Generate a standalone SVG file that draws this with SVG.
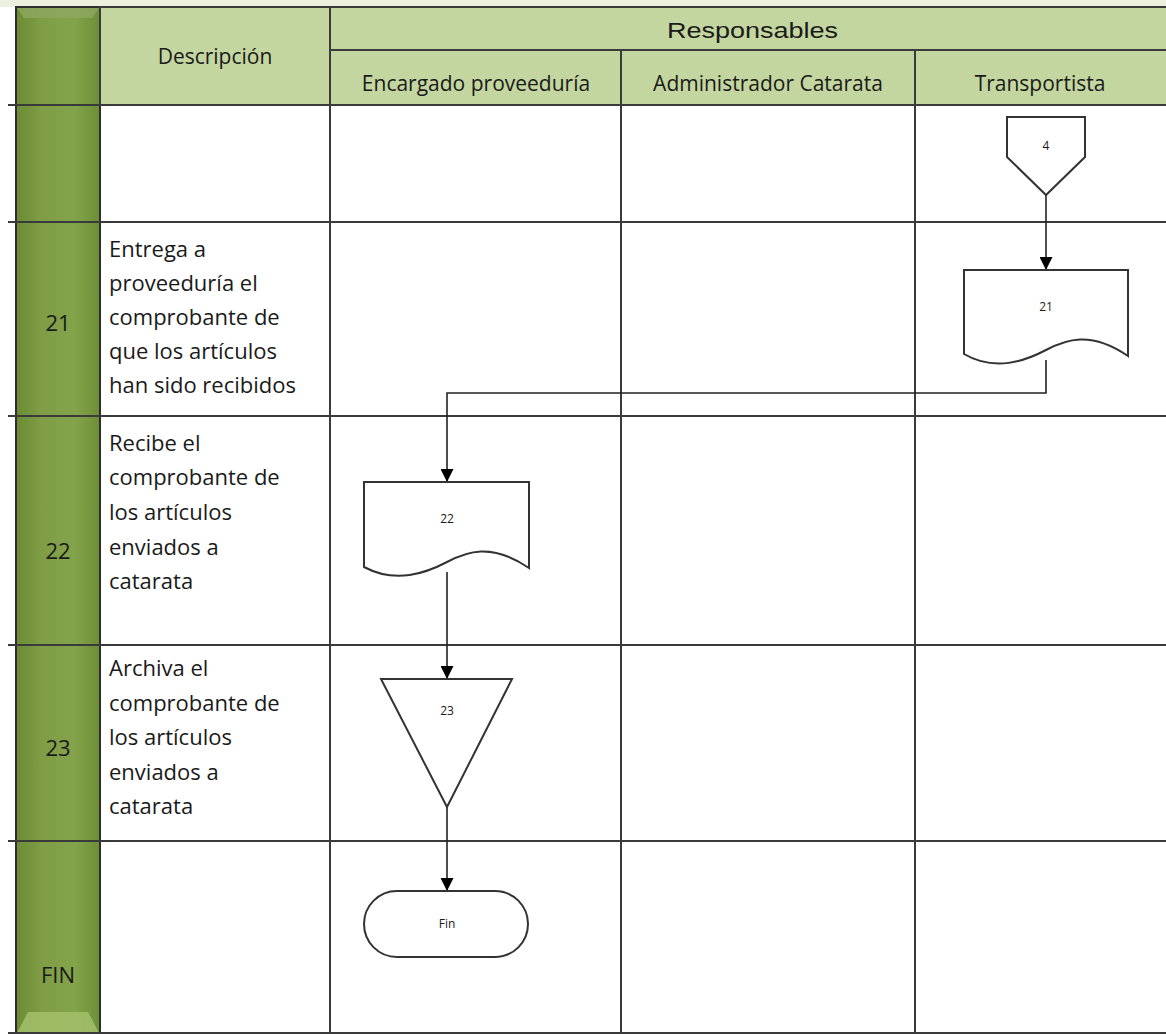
<svg xmlns="http://www.w3.org/2000/svg" width="1166" height="1034" viewBox="0 0 1166 1034">
<defs>
<style>
.grid{stroke:#3a3a3a;stroke-width:2;fill:none}
.hdr{fill:#c4d69f;stroke:#3a3a3a;stroke-width:2}
.t{font-family:"Open Sans","DejaVu Sans",sans-serif;font-size:22px;fill:#1a1a1a}
.h{font-family:"Open Sans","DejaVu Sans",sans-serif;font-size:21px;fill:#1a1a1a;text-anchor:middle}
.s{font-family:"Open Sans","DejaVu Sans",sans-serif;font-size:12px;fill:#1a1a1a;text-anchor:middle}
.shape{fill:#fff;stroke:#333;stroke-width:2}
.conn{stroke:#222;stroke-width:1.6;fill:none;marker-end:url(#arr)}
</style>
<linearGradient id="gcol" x1="0" y1="0" x2="1" y2="0">
<stop offset="0" stop-color="#6b8b35"/>
<stop offset="0.3" stop-color="#7e9d44"/>
<stop offset="0.7" stop-color="#84a44b"/>
<stop offset="1" stop-color="#6d8d37"/>
</linearGradient>
<marker id="arr" markerWidth="13" markerHeight="13" refX="13" refY="6.5" orient="auto" markerUnits="userSpaceOnUse" viewBox="0 0 13 13">
<path d="M0,0 L13,6.5 L0,13 Z" fill="#000"/>
</marker>
</defs>
<rect x="0" y="0" width="1166" height="1034" fill="#fff"/>
<rect x="0" y="0" width="1166" height="7" fill="#ebf1de"/>

<g id="green-column">
<rect x="16" y="7" width="84" height="1027" fill="url(#gcol)" stroke="#2e2e2e" stroke-width="2"/>
<polygon points="17,8 99,8 92,18 24,18" fill="#8fa862" opacity="0.8"/>
<polygon points="17,1033 99,1033 88,1012 28,1012" fill="#a3c16a" opacity="0.85"/>
</g>

<g id="header">
<rect class="hdr" x="100" y="7" width="230" height="98"/>
<rect class="hdr" x="330" y="7" width="840" height="43"/>
<rect class="hdr" x="330" y="50" width="291" height="55"/>
<rect class="hdr" x="621" y="50" width="294" height="55"/>
<rect class="hdr" x="915" y="50" width="255" height="55"/>
<text class="h" x="215" y="64">Descripción</text>
<text x="667" y="38" font-family="Liberation Sans, Arial, sans-serif" font-size="22" fill="#1a1a1a" textLength="171" lengthAdjust="spacingAndGlyphs">Responsables</text>
<text class="h" x="476" y="91">Encargado proveeduría</text>
<text class="h" x="768" y="91">Administrador Catarata</text>
<text class="h" x="1040" y="91">Transportista</text>
</g>

<g id="grid" class="grid">
<line x1="8" y1="105" x2="1166" y2="105"/>
<line x1="8" y1="222" x2="1166" y2="222"/>
<line x1="8" y1="416" x2="1166" y2="416"/>
<line x1="8" y1="645" x2="1166" y2="645"/>
<line x1="8" y1="841" x2="1166" y2="841"/>
<line x1="330" y1="105" x2="330" y2="1034"/>
<line x1="621" y1="105" x2="621" y2="1034"/>
<line x1="915" y1="105" x2="915" y2="1034"/>
<line x1="8" y1="1033" x2="1166" y2="1033"/>
</g>

<g id="row-21">
<text class="t" x="58" y="331" text-anchor="middle">21</text>
<text class="t" x="109" y="257">Entrega a</text>
<text class="t" x="109" y="291">proveeduría el</text>
<text class="t" x="109" y="325">comprobante de</text>
<text class="t" x="109" y="359">que los artículos</text>
<text class="t" x="109" y="393">han sido recibidos</text>
</g>
<g id="row-22">
<text class="t" x="58" y="559" text-anchor="middle">22</text>
<text class="t" x="109" y="451">Recibe el</text>
<text class="t" x="109" y="485">comprobante de</text>
<text class="t" x="109" y="520">los artículos</text>
<text class="t" x="109" y="555">enviados a</text>
<text class="t" x="109" y="589">catarata</text>
</g>
<g id="row-23">
<text class="t" x="58" y="756" text-anchor="middle">23</text>
<text class="t" x="109" y="676">Archiva el</text>
<text class="t" x="109" y="711">comprobante de</text>
<text class="t" x="109" y="745">los artículos</text>
<text class="t" x="109" y="780">enviados a</text>
<text class="t" x="109" y="814">catarata</text>
</g>
<g id="row-fin">
<text class="t" x="58" y="983" text-anchor="middle">FIN</text>
</g>

<g id="connectors">
<path class="conn" d="M1046,195 L1046,270"/>
<path class="conn" d="M1046,360 L1046,393 L447,393 L447,482"/>
<path class="conn" d="M447,572 L447,679"/>
<path class="conn" d="M447,807 L447,891"/>
</g>

<g id="node-4">
<polygon class="shape" points="1007,117 1085,117 1085,157 1046,195 1007,157"/>
<text class="s" x="1046" y="150">4</text>
</g>
<g id="node-21">
<path class="shape" d="M964,270 L1128,270 L1128,356 C1090,330 1065,340 1046,350 C1025,361 995,372 964,354 Z"/>
<text class="s" x="1046" y="311">21</text>
</g>
<g id="node-22">
<path class="shape" d="M364,482 L529,482 L529,568 C491,542 466,552 447,562 C426,573 396,584 364,567 Z"/>
<text class="s" x="447" y="523">22</text>
</g>
<g id="node-23">
<polygon class="shape" points="381,679 512,679 447,807"/>
<text class="s" x="447" y="715">23</text>
</g>
<g id="node-fin">
<rect class="shape" x="364" y="891" width="164" height="66" rx="33" ry="33"/>
<text class="s" x="447" y="928">Fin</text>
</g>
</svg>
